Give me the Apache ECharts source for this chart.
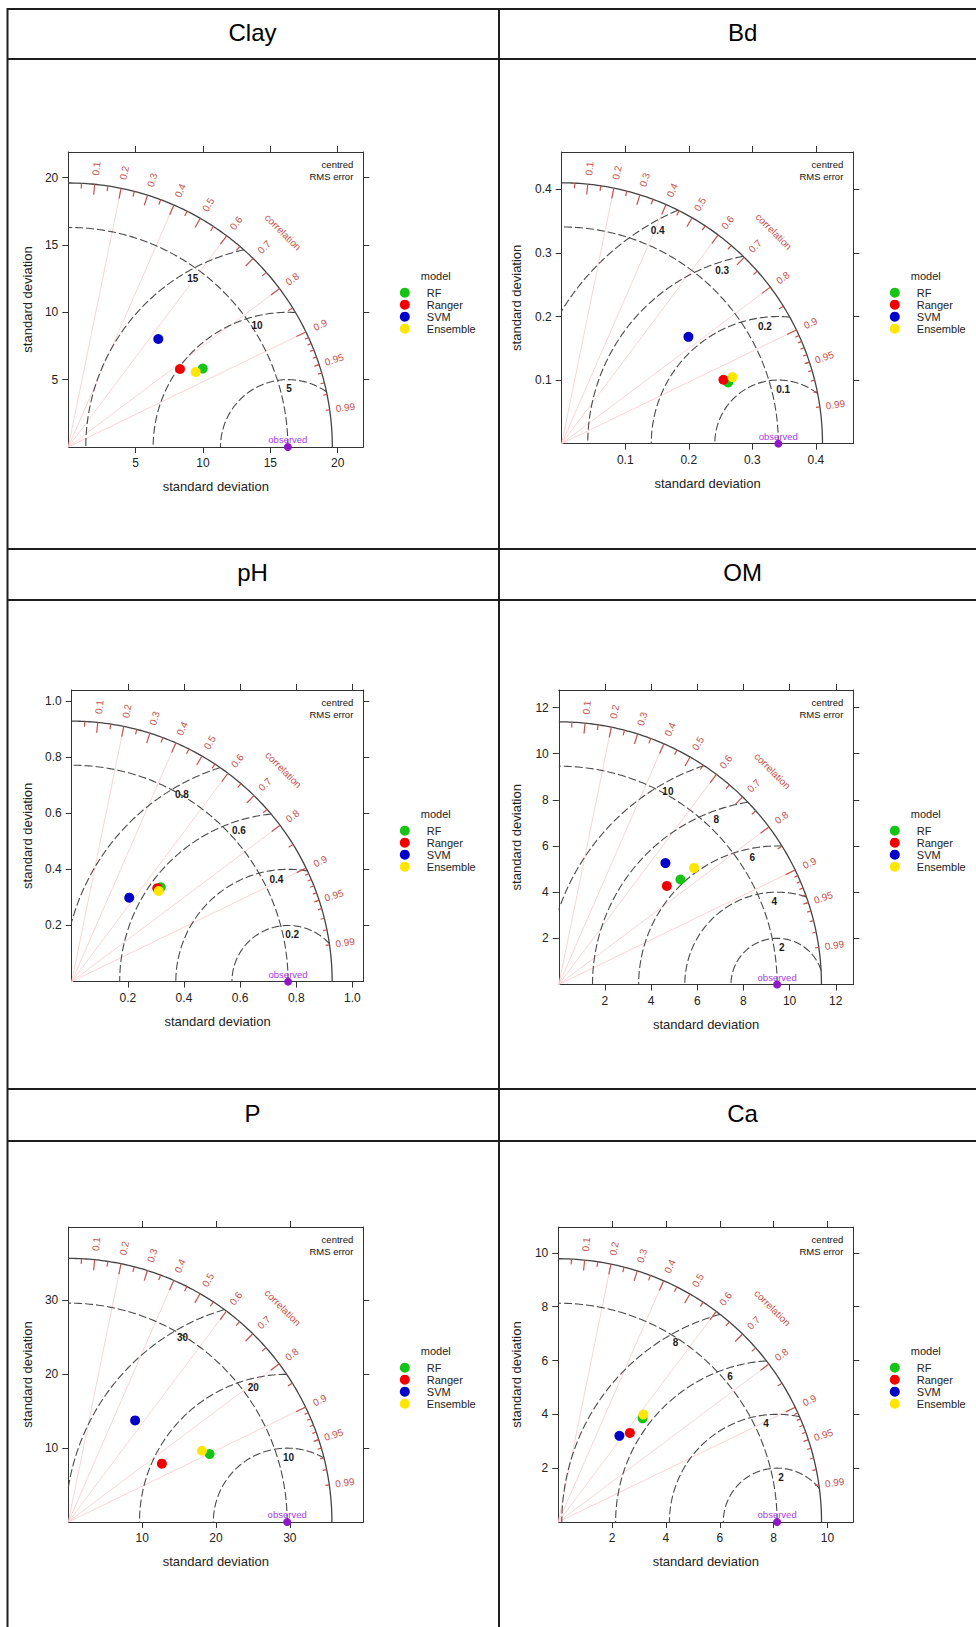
<!DOCTYPE html>
<html><head><meta charset="utf-8">
<script src="https://cdn.jsdelivr.net/npm/echarts@6/dist/echarts.min.js"></script>
<style>html,body{margin:0;padding:0;background:#fff}#c{width:976px;height:1627px}</style>
</head><body><div id="c"></div><script>
// ---------------- data ----------------
const panelNames = ['Clay', 'Bd', 'pH', 'OM', 'P', 'Ca'];
const modelNames = ['RF', 'Ranger', 'SVM', 'Ensemble'];
// points as [sd * correlation, sd * sqrt(1 - correlation^2)]
const rfPoints       = [[9.98, 5.82], [0.262, 0.0963], [0.317, 0.336], [5.27, 4.55], [19.14, 9.2], [3.13, 3.85]];
const rangerPoints   = [[8.29, 5.79], [0.2546, 0.1005], [0.305, 0.333], [4.68, 4.27], [12.67, 7.9], [2.66, 3.31]];
const svmPoints      = [[6.68, 8.02], [0.1995, 0.168], [0.205, 0.299], [4.62, 5.26], [9.05, 13.76], [2.27, 3.2]];
const ensemblePoints = [[9.46, 5.57], [0.2688, 0.1047], [0.31, 0.323], [5.86, 5.05], [18.1, 9.65], [3.16, 3.99]];
const observedSD = [16.3, 0.341, 0.771, 9.46, 29.64, 8.13];
const outerSD    = [19.6, 0.4105, 0.928, 11.38, 35.7, 9.78];
const axisMax    = [21.9, 0.459, 1.039, 12.76, 39.95, 10.96];
const axisTickLabels = [
  ['5', '10', '15', '20'],
  ['0.1', '0.2', '0.3', '0.4'],
  ['0.2', '0.4', '0.6', '0.8', '1.0'],
  ['2', '4', '6', '8', '10', '12'],
  ['10', '20', '30'],
  ['2', '4', '6', '8', '10']
];
const rmsLevels = [[5, 10, 15], [0.1, 0.2, 0.3, 0.4], [0.2, 0.4, 0.6, 0.8], [2, 4, 6, 8, 10], [10, 20, 30], [2, 4, 6, 8]];
const corrLines = [0.2, 0.4, 0.6, 0.8, 0.9];
const corrBigTicks = [0.1, 0.2, 0.3, 0.4, 0.5, 0.6, 0.7, 0.8, 0.9];
const corrMedTicks = [0.05, 0.15, 0.25, 0.35, 0.45, 0.55, 0.65, 0.75, 0.85, 0.95];
const corrSmallTicks = [0.91, 0.92, 0.93, 0.94, 0.95, 0.96, 0.97, 0.98, 0.99];
const corrTickLabels = ['0.1', '0.2', '0.3', '0.4', '0.5', '0.6', '0.7', '0.8', '0.9', '0.95', '0.99'];

// ---------------- styling / layout ----------------
const modelPoints = [rfPoints, rangerPoints, svmPoints, ensemblePoints];
const modelColors = ['#16C416', '#F20000', '#0000C8', '#FFE600'];
const FONT = '"Liberation Sans", Arial, Helvetica, sans-serif';
const TICK_RED = '#C5534F';
const boxRight = [363.3, 853.3];
const boxTop = [152, 690, 1227];
const boxSize = [295, 291.6, 291.6, 294.5, 295, 295];
const yTitleX = [27, 516.5];
const colCenter = [252.5, 742.6];
const headerY = [32, 572.5, 1113];

function box(p) {
  const col = p % 2, row = Math.floor(p / 2);
  const s = boxSize[p];
  return { left: boxRight[col] - s, top: boxTop[row], size: s, col, row };
}

const grids = [], xAxes = [], yAxes = [], series = [], legends = [], graphics = [];

function txt(style) {
  return Object.assign({ fontFamily: FONT }, style, {
    align: style.align, verticalAlign: style.verticalAlign,
    textAlign: style.align, textVerticalAlign: style.verticalAlign
  });
}

panelNames.forEach((name, p) => {
  const b = box(p);
  grids.push({ left: b.left, top: b.top, width: b.size, height: b.size, containLabel: false });
  const ticks = axisTickLabels[p].map(Number);
  const fmt = v => { const i = ticks.findIndex(t => Math.abs(t - v) < 1e-9); return i >= 0 ? axisTickLabels[p][i] : ''; };
  const base = () => ({
    type: 'value', gridIndex: p, min: 0, max: axisMax[p],
    splitLine: { show: false },
    axisLine: { show: true, onZero: false, lineStyle: { color: '#333', width: 1 } },
    axisTick: { show: true, length: 6, customValues: ticks, lineStyle: { color: '#333', width: 1 } }
  });
  xAxes.push(Object.assign(base(), {
    position: 'bottom',
    axisLabel: { customValues: ticks, formatter: fmt, fontSize: 12, color: '#222', margin: 10, fontFamily: FONT },
    name: 'standard deviation', nameLocation: 'middle', nameGap: 33,
    nameTextStyle: { fontSize: 13, color: '#222', fontFamily: FONT }
  }));
  xAxes.push(Object.assign(base(), { position: 'top', axisLabel: { show: false } }));
  yAxes.push(Object.assign(base(), {
    position: 'left',
    axisLabel: { customValues: ticks, formatter: fmt, fontSize: 12, color: '#222', margin: 10, fontFamily: FONT },
    name: 'standard deviation', nameLocation: 'middle', nameGap: (b.left - yTitleX[b.col]) - 6.5,
    nameTextStyle: { fontSize: 13, color: '#222', fontFamily: FONT }
  }));
  yAxes.push(Object.assign(base(), { position: 'right', axisLabel: { show: false } }));

  const obs = observedSD[p], R = outerSD[p], levels = rmsLevels[p];
  // Taylor-diagram furniture drawn through the axes' scales
  series.push({
    type: 'custom', xAxisIndex: 2 * p, yAxisIndex: 2 * p, silent: true, clip: false, z: 1,
    data: [[0, 0]],
    renderItem(params, api) {
      const cs = params.coordSys;
      const P = (x, y) => api.coord([x, y]);
      const o = P(0, 0);
      const k = P(1, 0)[0] - o[0];
      const pol = (r, a) => P(r * Math.cos(a), r * Math.sin(a));
      const ch = [];
      corrLines.forEach(c => {
        const e = pol(R, Math.acos(c));
        ch.push({ type: 'line', shape: { x1: o[0], y1: o[1], x2: e[0], y2: e[1] }, style: { stroke: '#F8D0D0', lineWidth: 0.9 } });
      });
      const arc = (pts, stroke, lw, dash) => ch.push({ type: 'polyline', shape: { points: pts }, style: { stroke, fill: null, lineWidth: lw, lineDash: dash || null } });
      // centred RMS arcs around the observed point, kept inside the outer arc
      levels.forEach(r => {
        const cmin = (R * R - obs * obs - r * r) / (2 * obs * r);
        const t0 = Math.acos(Math.max(-1, Math.min(1, cmin)));
        const t1 = Math.acos(Math.max(-1, -obs / r));
        const pts = [];
        for (let i = 0; i <= 160; i++) { const t = t0 + (t1 - t0) * i / 160; pts.push(P(obs + r * Math.cos(t), r * Math.sin(t))); }
        arc(pts, '#4a4a4a', 1.1, [8, 3]);
      });
      // observed sd arc and outer arc
      const q = (r) => { const pts = []; for (let i = 0; i <= 160; i++) pts.push(pol(r, Math.PI / 2 * i / 160)); return pts; };
      arc(q(obs), '#4a4a4a', 1.1, [8, 3]);
      arc(q(R), '#444', 1.3);
      const tick = (c, f) => { const a = Math.acos(c); const p1 = pol(R * f, a), p2 = pol(R, a);
        ch.push({ type: 'line', shape: { x1: p1[0], y1: p1[1], x2: p2[0], y2: p2[1] }, style: { stroke: TICK_RED, lineWidth: 1.2 } }); };
      corrBigTicks.forEach(c => tick(c, 0.96));
      corrMedTicks.forEach(c => tick(c, 0.98));
      corrSmallTicks.forEach(c => tick(c, 0.985));
      corrTickLabels.forEach(l => {
        const a = Math.acos(Number(l)); const pt = pol(R * 1.06, a);
        ch.push({ type: 'text', x: pt[0], y: pt[1], rotation: a,
          style: txt({ text: l, fill: TICK_RED, fontSize: 10, align: 'center', verticalAlign: 'middle' }) });
      });
      const cp = pol(R * 1.15, Math.PI / 4);
      ch.push({ type: 'text', x: cp[0], y: cp[1], rotation: -Math.PI / 4,
        style: txt({ text: 'correlation', fill: TICK_RED, fontSize: 10, align: 'center', verticalAlign: 'middle' }) });
      const c0 = P(obs, 0);
      const rMax = levels[levels.length - 1];
      levels.forEach(r => {
        const ang = (73.5 + 46 * r / rMax) * Math.PI / 180;
        const pr = r * k - 9;
        ch.push({ type: 'text', x: c0[0] + pr * Math.cos(ang), y: c0[1] - pr * Math.sin(ang),
          style: txt({ text: String(r), fill: '#1a1a1a', fontSize: 10, fontWeight: 'bold', align: 'center', verticalAlign: 'middle' }) });
      });
      ch.push({ type: 'text', x: cs.x + cs.width - 10, y: cs.y + 12.6,
        style: txt({ text: 'centred', fill: '#111', fontSize: 9.5, align: 'right', verticalAlign: 'middle' }) });
      ch.push({ type: 'text', x: cs.x + cs.width - 10, y: cs.y + 24,
        style: txt({ text: 'RMS error', fill: '#111', fontSize: 9.5, align: 'right', verticalAlign: 'middle' }) });
      ch.push({ type: 'text', x: c0[0], y: c0[1] - 7.5,
        style: txt({ text: 'observed', fill: '#A63CE8', fontSize: 9.5, align: 'center', verticalAlign: 'middle' }) });
      return { type: 'group', children: ch };
    }
  });
  series.push({
    type: 'scatter', name: 'observed', xAxisIndex: 2 * p, yAxisIndex: 2 * p, silent: true, clip: true, z: 2,
    data: [[obs, 0]], symbolSize: 8, itemStyle: { color: '#8E17C8', opacity: 1 }
  });
  legends.push({
    orient: 'vertical', left: boxRight[b.col] + 36.5, top: b.top + 134.7, padding: 0,
    itemWidth: 34, itemHeight: 10, itemGap: 0, icon: 'circle', selectedMode: false,
    data: modelNames, textStyle: { fontSize: 11, lineHeight: 12, color: '#222', fontFamily: FONT }
  });
  graphics.push({ type: 'text', left: boxRight[b.col] + 57.5, top: b.top + 118,
    style: { text: 'model', fill: '#222', font: '11px ' + FONT } });
});

modelNames.forEach((m, mi) => {
  panelNames.forEach((n, p) => {
    series.push({
      type: 'scatter', name: m, xAxisIndex: 2 * p, yAxisIndex: 2 * p, z: 3,
      data: [modelPoints[mi][p]], symbolSize: 10,
      itemStyle: { color: modelColors[mi], opacity: 1 }, emphasis: { disabled: true }
    });
  });
});

// table frame
const LINE = { stroke: '#1e1e1e', lineWidth: 2 };
[9, 59, 549, 600, 1089, 1141].forEach(y => graphics.push({ type: 'line', silent: true, shape: { x1: 7, y1: y, x2: 990, y2: y }, style: LINE }));
[7.5, 499].forEach(x => graphics.push({ type: 'line', silent: true, shape: { x1: x, y1: 8, x2: x, y2: 1640 }, style: LINE }));
panelNames.forEach((n, p) => {
  const col = p % 2, row = Math.floor(p / 2);
  graphics.push({ type: 'text', x: colCenter[col], y: headerY[row],
    style: { text: n, fill: '#000', font: '24px ' + FONT, textAlign: 'center', textVerticalAlign: 'middle', align: 'center', verticalAlign: 'middle' } });
});

const chart = echarts.init(document.getElementById('c'), null, { renderer: 'svg' });
chart.setOption({
  animation: false,
  backgroundColor: '#fff',
  textStyle: { fontFamily: FONT },
  grid: grids, xAxis: xAxes, yAxis: yAxes, legend: legends,
  series: series, graphic: { elements: graphics }
});
</script></body></html>
